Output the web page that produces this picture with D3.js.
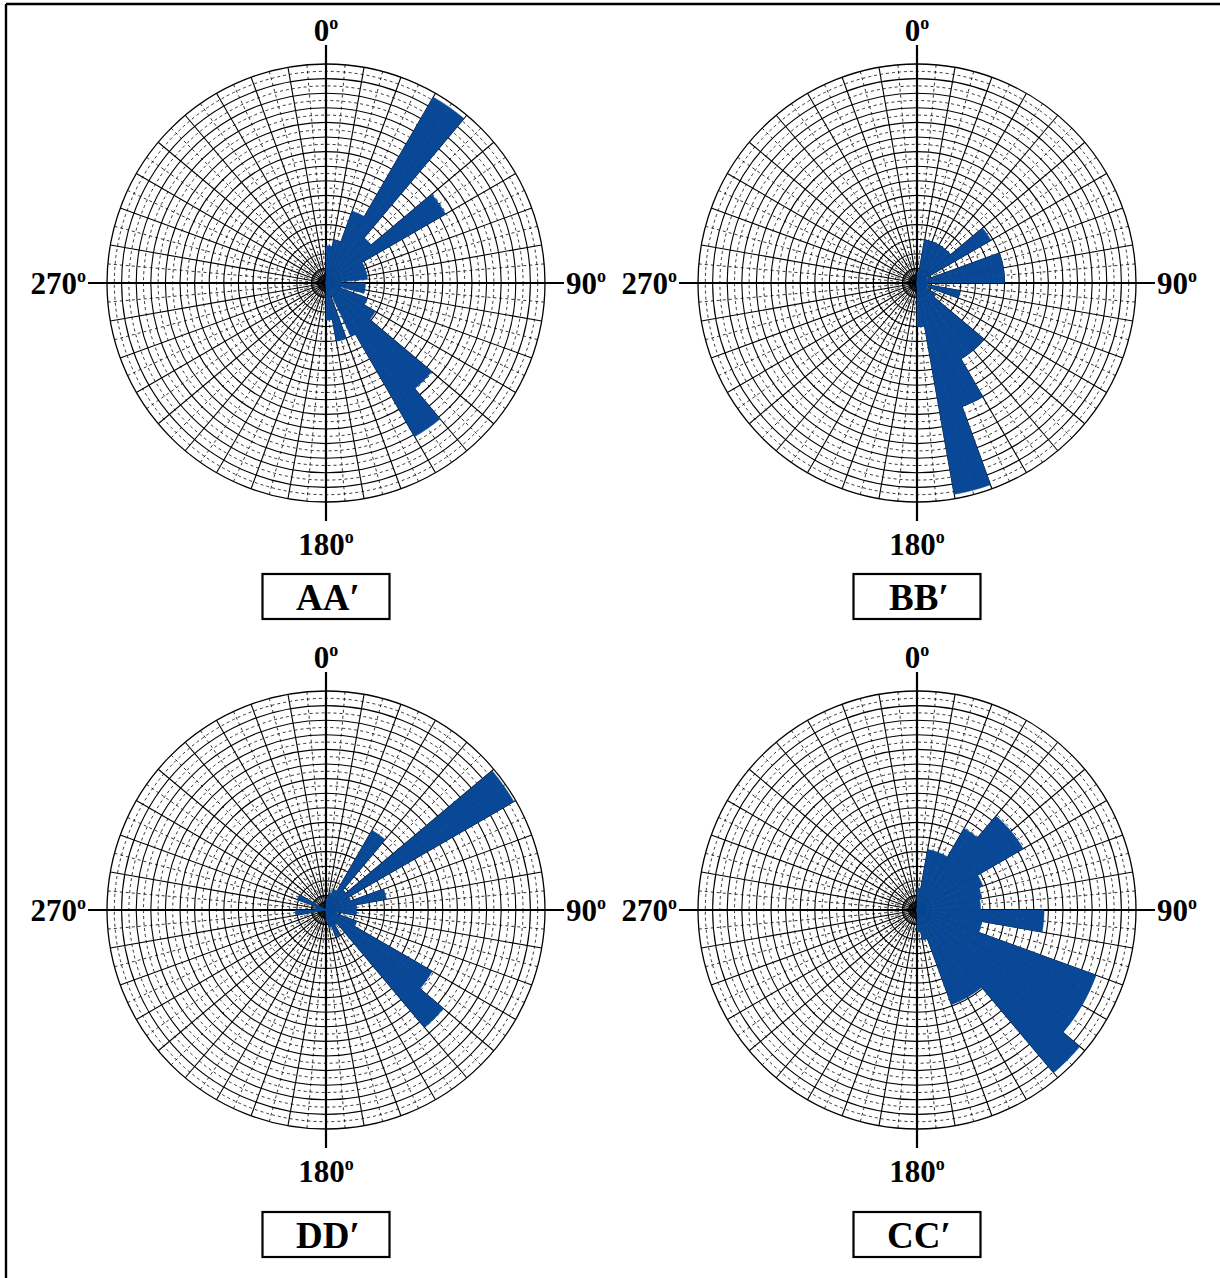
<!DOCTYPE html>
<html>
<head>
<meta charset="utf-8">
<script src="https://cdn.jsdelivr.net/npm/d3@7"></script>
<style>
  body { margin: 0; background: #fff; }
  svg { display: block; }
  .lbl { font-family: "Liberation Serif", "Times New Roman", serif; font-weight: bold; fill: #000; }
</style>
</head>
<body>
<div id="plot"></div>
<script>
// 5 degree direction bins, clockwise from north
const binAngles = d3.range(0, 360, 5);

// petal lengths, % of the outer circle (one value per 5 degree bin)
const aaValues = [
  17,17,20,20,35,35,98,98,27,27,63,63,19,19,19,19,19,7,
  18,18,18,7,20,20,26,26,63,63,81,81,27,5,27,27,17,17,
  0,0,0,0,0,0,0,0,0,0,0,0,0,0,0,0,0,0,
  0,0,0,0,0,0,0,0,0,0,0,0,0,0,0,0,0,0
];
const bbValues = [
  5,5,20,20,20,20,20,20,20,20,39,39,5,5,40,40,40,40,
  5,5,20,20,5,5,10,10,40,40,40,40,60,60,98,98,20,20,
  0,0,0,0,0,0,0,0,0,0,0,0,0,0,0,0,0,0,
  0,0,0,0,0,0,0,0,0,0,0,0,0,0,0,0,0,0
];
const ddValues = [
  5,5,8,8,10,10,42,42,12,12,99,99,12,12,28,28,14,14,
  14,14,5,5,15,15,56,56,70,70,8,8,13,13,8,8,5,5,
  0,0,0,0,0,0,0,0,0,0,0,0,0,0,0,0,14,14,
  5,5,5,5,14,14,0,0,0,0,0,0,0,0,0,0,0,0
];
const ccValues = [
  10,10,28,28,28,28,43,43,56,56,56,56,32,32,30,30,29,29,
  58,58,30,30,87,87,87,87,97,97,46,46,46,46,14,14,10,10,
  0,0,0,0,0,0,0,0,0,0,0,0,0,0,0,0,0,0,
  0,0,0,0,0,0,0,0,0,0,0,0,0,0,0,0,0,0
];

const axisLabels = ["0", "90", "180", "270"];
const titles = ["AA\u2032", "BB\u2032", "DD\u2032", "CC\u2032"];

const panels = [
  { title: titles[0], values: aaValues, cx: 326, cy: 283, boxY: 574 },
  { title: titles[1], values: bbValues, cx: 917, cy: 283, boxY: 574 },
  { title: titles[2], values: ddValues, cx: 326, cy: 910, boxY: 1212 },
  { title: titles[3], values: ccValues, cx: 917, cy: 910, boxY: 1212 }
];

const R = 219;          // outer circle radius
const ringCount = 15;   // solid rings
const blue = "#084896";

const svg = d3.select("#plot").append("svg")
  .attr("width", 1220)
  .attr("height", 1278);

// frame (only top and left edges show)
svg.append("line").attr("x1", 6).attr("x2", 1220).attr("y1", 4).attr("y2", 4)
  .attr("stroke", "#000").attr("stroke-width", 2.4);
svg.append("line").attr("x1", 6).attr("x2", 6).attr("y1", 4).attr("y2", 1278)
  .attr("stroke", "#000").attr("stroke-width", 2.4);

const rad = d => d * Math.PI / 180;

panels.forEach(p => {
  const g = svg.append("g").attr("transform", `translate(${p.cx},${p.cy})`);
  const r = d3.scaleLinear().domain([0, 100]).range([0, R]);
  const step = 100 / ringCount;

  // dashed half rings
  g.selectAll(".ring-minor")
    .data(d3.range(ringCount).map(k => (k + 0.5) * step))
    .join("circle")
      .attr("class", "ring-minor")
      .attr("r", d => r(d))
      .attr("fill", "none")
      .attr("stroke", "#000")
      .attr("stroke-width", 0.8)
      .attr("stroke-dasharray", "3,3");

  // spokes: solid every 10 deg, dashed in between
  g.selectAll(".spoke")
    .data(d3.range(0, 360, 5))
    .join("line")
      .attr("class", "spoke")
      .attr("x1", 0).attr("y1", 0)
      .attr("x2", d => R * Math.sin(rad(d)))
      .attr("y2", d => -R * Math.cos(rad(d)))
      .attr("stroke", "#000")
      .attr("stroke-width", d => d % 10 ? 0.8 : 1.1)
      .attr("stroke-dasharray", d => d % 10 ? "3,3" : null);

  // solid rings
  g.selectAll(".ring")
    .data(d3.range(1, ringCount + 1).map(k => k * step))
    .join("circle")
      .attr("class", "ring")
      .attr("r", d => r(d))
      .attr("fill", "none")
      .attr("stroke", "#000")
      .attr("stroke-width", d => d === 100 ? 1.3 : 1.1);

  // main axes
  const ext = 238;
  g.append("line").attr("x1", -ext).attr("x2", ext).attr("y1", 0).attr("y2", 0)
    .attr("stroke", "#000").attr("stroke-width", 2.2);
  g.append("line").attr("x1", 0).attr("x2", 0).attr("y1", -ext).attr("y2", ext)
    .attr("stroke", "#000").attr("stroke-width", 2.2);

  // rose petals
  const arc = d3.arc()
    .innerRadius(0)
    .outerRadius(d => r(d.value))
    .startAngle(d => rad(d.angle))
    .endAngle(d => rad(d.angle + 5));

  const petals = binAngles.map((a, i) => ({ angle: a, value: p.values[i] }))
    .filter(d => d.value > 0);

  g.selectAll(".petal")
    .data(petals)
    .join("path")
      .attr("class", "petal")
      .attr("d", arc)
      .attr("fill", blue)
      .attr("stroke", blue)
      .attr("stroke-width", 0.6);

  // direction labels
  const fs = 31;
  const labelPos = [
    { x: 0, y: -242, anchor: "middle" },
    { x: 240, y: 11, anchor: "start" },
    { x: 0, y: 272, anchor: "middle" },
    { x: -240, y: 11, anchor: "end" }
  ];
  axisLabels.forEach((t, i) => {
    const lp = labelPos[i];
    const txt = g.append("text")
      .attr("class", "lbl")
      .attr("x", lp.x).attr("y", lp.y)
      .attr("text-anchor", lp.anchor)
      .style("font-size", fs + "px");
    txt.append("tspan").text(t);
    txt.append("tspan").attr("dy", -12).style("font-size", "18px").text("o");
  });

  // title box
  const bw = 127, bh = 45;
  svg.append("rect")
    .attr("x", p.cx - bw / 2).attr("y", p.boxY)
    .attr("width", bw).attr("height", bh)
    .attr("fill", "#fff")
    .attr("stroke", "#000")
    .attr("stroke-width", 2.2);
  svg.append("text")
    .attr("class", "lbl")
    .attr("x", p.cx + 2).attr("y", p.boxY + 36)
    .attr("text-anchor", "middle")
    .style("font-size", "37px")
    .text(p.title);
});
</script>
</body>
</html>
